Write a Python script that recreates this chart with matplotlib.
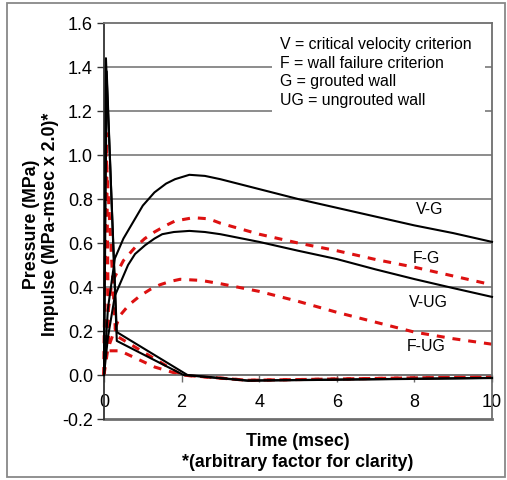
import numpy as np
import matplotlib
matplotlib.use('Agg')
import matplotlib.pyplot as plt
from matplotlib.patches import Rectangle

plt.rcParams['font.family'] = ['Liberation Sans', 'DejaVu Sans']

# impulse curves (x in msec, y in MPa-msec x 2.0)
vg_t = [0, 0.1, 0.28, 0.5, 0.8, 1.0, 1.3, 1.6, 1.83, 2.2, 2.6, 3, 4, 5, 6, 7, 8, 9, 10]
vg_i = [0, 0.3, 0.53, 0.62, 0.71, 0.77, 0.83, 0.87, 0.89, 0.91, 0.905, 0.89, 0.845, 0.80, 0.76, 0.72, 0.68, 0.645, 0.605]

vug_t = [0, 0.1, 0.28, 0.62, 0.8, 1.06, 1.3, 1.5, 1.8, 2.2, 2.6, 3, 4, 5, 6, 7, 8, 9, 10]
vug_i = [0, 0.17, 0.36, 0.5, 0.55, 0.59, 0.62, 0.64, 0.65, 0.655, 0.65, 0.64, 0.605, 0.565, 0.527, 0.48, 0.436, 0.395, 0.355]

fg_t = [0, 0.1, 0.2, 0.5, 0.8, 1.05, 1.3, 1.6, 1.83, 2.3, 2.7, 3, 4, 5, 6, 7, 8, 9, 10]
fg_i = [0, 0.28, 0.42, 0.52, 0.58, 0.62, 0.65, 0.68, 0.70, 0.715, 0.71, 0.69, 0.64, 0.60, 0.565, 0.525, 0.49, 0.45, 0.41]

fug_t = [0, 0.1, 0.41, 0.65, 0.93, 1.2, 1.44, 1.7, 1.96, 2.5, 3, 4, 5, 6, 7, 8, 9, 10]
fug_i = [0, 0.12, 0.27, 0.32, 0.36, 0.39, 0.41, 0.425, 0.435, 0.43, 0.415, 0.38, 0.335, 0.285, 0.24, 0.195, 0.165, 0.14]

# pressure curves (MPa)
pvg_t = [0, 0.05, 0.33, 2.15, 3.7, 10]
pvg_p = [0, 1.44, 0.195, 0, -0.025, -0.013]
pvug_t = [0, 0.07, 0.33, 2.05, 3.7, 10]
pvug_p = [0, 1.38, 0.155, 0, -0.026, -0.014]
pfg_t = [0, 0.06, 0.12, 0.41, 1.31, 2.0, 3.7, 10]
pfg_p = [0, 1.1, 0.11, 0.11, 0.036, 0, -0.024, -0.008]
pfug_t = [0, 0.05, 0.3, 2.0, 3.7, 10]
pfug_p = [0, 1.02, 0.18, 0, -0.024, -0.008]

labels = ['V-G', 'F-G', 'V-UG', 'F-UG']
label_x = [8.38, 8.3, 8.35, 8.29]
label_y = [0.755, 0.532, 0.332, 0.132]

legend_txt = ('V = critical velocity criterion\nF = wall failure criterion\n'
              'G = grouted wall\nUG = ungrouted wall')

W, H = 507, 481
fig = plt.figure(figsize=(W / 100, H / 100), dpi=100)
ax = fig.add_axes([104 / W, 1 - 420 / H, 388 / W, 396 / H])

grid_c = '#6e6e6e'
red = '#dd1111'

# black = V criterion, red dashed = F criterion
for t, v in [(pvg_t, pvg_p), (pvug_t, pvug_p), (vg_t, vg_i), (vug_t, vug_i)]:
    ax.plot(t, v, color='black', lw=1.5, zorder=3, clip_on=False)
for t, v in [(pfg_t, pfg_p), (pfug_t, pfug_p), (fg_t, fg_i), (fug_t, fug_i)]:
    ax.plot(t, v, color=red, lw=2.2, dashes=(2.6, 2.6), zorder=2.5, clip_on=False)

ax.set_xlim(0, 10)
ax.set_ylim(-0.2, 1.6)
ax.set_yticks(np.arange(-0.2, 1.61, 0.2))
ax.set_yticklabels(['%.1f' % v for v in np.arange(-0.2, 1.61, 0.2)])
ax.set_xticks([0, 2, 4, 6, 8, 10])

for yv in np.arange(0.0, 1.41, 0.2):
    ax.axhline(yv, color=grid_c, lw=1.1, zorder=0.5)

# white box behind the legend text
ax.add_patch(Rectangle((0.433, 0.773), 0.549, 0.217, transform=ax.transAxes,
                       facecolor='white', edgecolor='none', zorder=1))
ax.text(0.4536, 0.967, legend_txt, transform=ax.transAxes, fontsize=11.4,
        va='top', ha='left', linespacing=1.3, zorder=4)

for lab, x, y in zip(labels, label_x, label_y):
    ax.text(x, y, lab, fontsize=11.4, ha='center', va='center', zorder=4)

# x axis crosses at 0, frame around the plot
ax.spines['bottom'].set_position(('data', 0))
ax.spines['bottom'].set_color(grid_c)
ax.spines['bottom'].set_linewidth(1.1)
ax.spines['left'].set_color('#333333')
ax.spines['left'].set_linewidth(1.3)
for s in ['top', 'right']:
    ax.spines[s].set_color(grid_c)
    ax.spines[s].set_linewidth(1.3)
ax.axhline(-0.2, color=grid_c, lw=2.0, clip_on=False, zorder=0.6)

ax.tick_params(axis='y', direction='out', length=5, width=1, pad=3, labelsize=13, color='#333333')
ax.tick_params(axis='x', direction='out', length=5, width=1, pad=8, labelsize=13, color=grid_c)

fig.text(41 / W, 1 - 224 / H, 'Pressure (MPa)\nImpulse (MPa-msec x 2.0)*', rotation=90,
         ha='center', va='center', fontsize=12.8, fontweight='bold', linespacing=1.1)
fig.text(298 / W, 1 - 452 / H, 'Time (msec)\n*(arbitrary factor for clarity)',
         ha='center', va='center', fontsize=12.8, fontweight='bold', linespacing=1.24)

# outer chart border
fig.add_artist(Rectangle((7 / W, 1 - 478 / H), 498 / W, 474 / H, transform=fig.transFigure,
                         facecolor='none', edgecolor='#888888', lw=1.3))

fig.savefig('out.png', dpi=100)
